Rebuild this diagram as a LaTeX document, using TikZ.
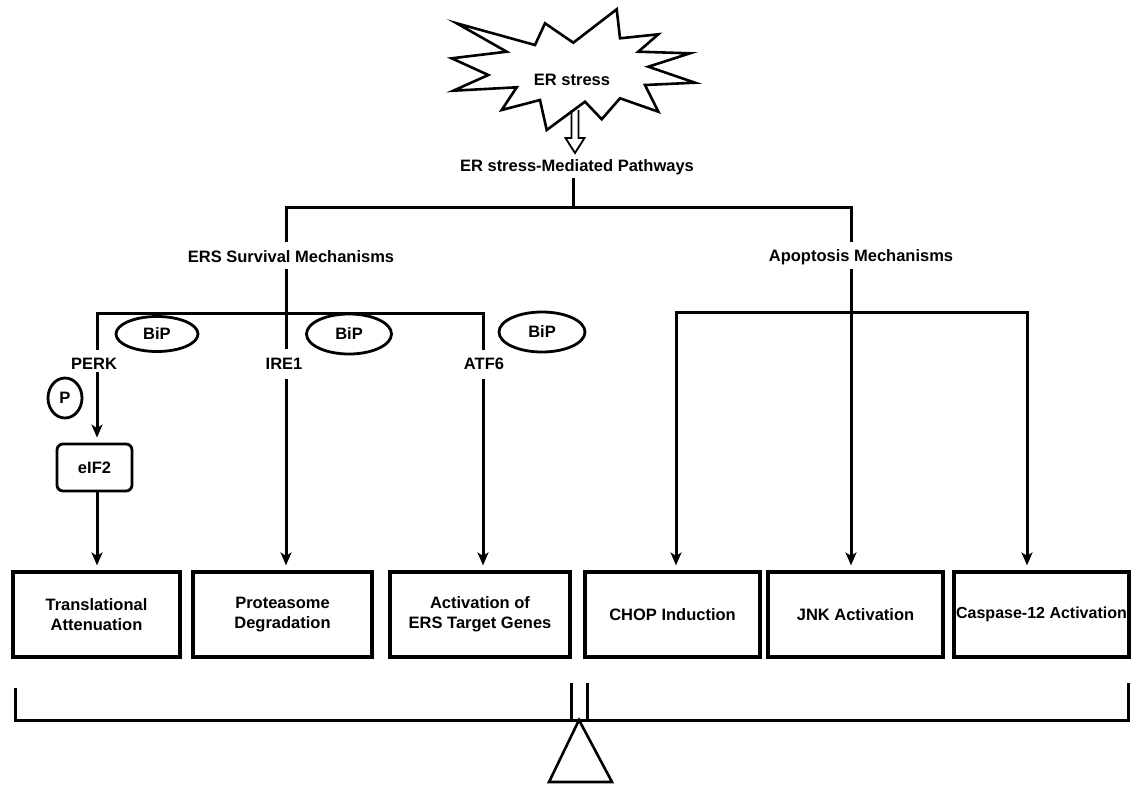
\documentclass[tikz,border=0pt]{standalone}
\usepackage{fontspec}
\setmainfont{Liberation Sans}
\usetikzlibrary{arrows.meta,shapes.geometric}
\newcommand\lblfont{\fontsize{16.5}{20}\selectfont\bfseries}
\tikzset{
  ln/.style={line width=3pt},
  arr/.style={line width=3pt,-{Stealth[length=13pt,width=11pt,inset=3.5pt]}},
  lbl/.style={font=\lblfont,inner sep=0pt},
  resbox/.style={draw,line width=3.2pt,minimum height=85pt,inner sep=0pt,align=center,font=\lblfont},
  bip/.style={draw,ellipse,line width=2.8pt,inner sep=0pt,font=\lblfont},
}
\begin{document}
\begin{tikzpicture}[x=1pt,y=-1pt]
\useasboundingbox (0,0) rectangle (1131,785);
% starburst
\draw[line width=2.6pt,line join=miter,miter limit=20]
 (456.7,23.3) -- (535,45) -- (545,23.3) -- (573.3,42.7) -- (616.7,9.3) -- (620,38.3)
 -- (658.3,34.3) -- (638.3,51.7) -- (690,53.3) -- (648.3,66.7) -- (695,82.7) -- (645,85)
 -- (658.3,111.7) -- (620,98.3) -- (601.7,119.3) -- (585,101.7) -- (546.7,130) -- (540,100)
 -- (501.7,110) -- (516.7,87.3) -- (453.3,90.7) -- (488.3,75) -- (451.7,58.3) -- (506.7,51.7) -- cycle;
\node[lbl] (er) at (572,80) {ER stress};
% hollow arrow
\draw[line width=1.8pt,line join=miter]
 (571.5,110) -- (571.5,138) -- (565.5,138) -- (575,153) -- (584.5,138) -- (578.5,138) -- (578.5,110);
\node[lbl] (med) at (577,167) {ER stress-Mediated Pathways};
% main tree
\coordinate (t0) at (573,178);
\coordinate (tC) at (573,207);
\coordinate (tL) at (286,207);
\coordinate (tR) at (851,207);
\draw[ln] (t0) -- (tC);
\draw[ln,line cap=rect] (tL) -- (tR);
\node[lbl] (ers) at (291,257) {ERS Survival Mechanisms};
\node[lbl] (apo) at (861,257) {Apoptosis Mechanisms};
\coordinate (eL1) at (286,242);
\coordinate (eR1) at (851,242);
\draw[ln] (tL) -- (eL1);
\draw[ln] (tR) -- (eR1);
% survival branch
\coordinate (eL2) at (286,269);
\coordinate (sL) at (97,313);
\coordinate (sR) at (483,313);
\coordinate (ireT) at (286,349);
\draw[ln] (eL2) -- (ireT);
\draw[ln,line join=miter] (97,350) -- (sL) -- (sR) -- (483,350);
\node[bip,minimum width=82pt,minimum height=35pt] (bip1) at (157,334) {BiP};
\node[bip,minimum width=85pt,minimum height=40pt] (bip2) at (349,334) {BiP};
\node[bip,minimum width=86pt,minimum height=40pt] (bip3) at (542,332) {BiP};
\node[lbl] (perk) at (94,364) {PERK};
\node[lbl] (ire) at (284,364) {IRE1};
\node[lbl] (atf) at (484,364) {ATF6};
\node[bip,minimum width=34pt,minimum height=40pt] (p) at (65,398) {P};
\node[draw,line width=2.8pt,rounded corners=6pt,minimum width=75pt,minimum height=47pt,inner sep=0pt,font=\lblfont] (eif) at (94.5,467.5) {eIF2};
% boxes
\node[resbox,minimum width=167pt] (b1) at (96.5,614.5) {Translational\\Attenuation};
\node[resbox,minimum width=179pt] (b2) at (282.5,614.5) {Proteasome\\Degradation};
\node[resbox,minimum width=180pt] (b3) at (480,614.5) {Activation of\\ERS Target Genes};
\node[resbox,minimum width=175pt] (b4) at (672.5,614.5) {CHOP Induction};
\node[resbox,minimum width=175pt] (b5) at (855.5,614.5) {JNK Activation};
\node[resbox,minimum width=175pt,font=\fontsize{16}{20}\selectfont\bfseries] (b6) at (1041.5,614.5) {Caspase-12 Activation};
% arrows survival
\coordinate (perkB) at (97,372);
\coordinate (ireB) at (286,379);
\coordinate (atfB) at (483,379);
\draw[arr,shorten >=5pt] (perkB) -- (perkB |- eif.north);
\draw[arr,shorten >=5pt] (eif.south -| perkB) -- (perkB |- b1.north);
\draw[arr,shorten >=5pt] (ireB) -- (ireB |- b2.north);
\draw[arr,shorten >=5pt] (atfB) -- (atfB |- b3.north);
% apoptosis branch
\coordinate (eR2) at (851,269);
\coordinate (aL) at (676,312);
\coordinate (aR) at (1027,312);
\draw[ln,line cap=rect] (aL) -- (aR);
\draw[arr,shorten >=5pt] (aL) -- (aL |- b4.north);
\draw[arr,shorten >=5pt] (aR) -- (aR |- b6.north);
\draw[arr,shorten >=5pt] (eR2) -- (eR2 |- b5.north);
% balance
\coordinate (bl) at (15,720);
\coordinate (br) at (1128,720);
\coordinate (apex) at (579,720);
\draw[ln,line cap=rect] (bl) -- (br);
\draw[ln] (15,688) -- (bl);
\draw[ln] (1128,683) -- (br);
\draw[ln] (571,683) -- (571,720);
\draw[ln] (587,683) -- (587,720);
\draw[line width=2.6pt,line join=miter] (apex) -- (612,782) -- (549,782) -- cycle;
\end{tikzpicture}
\end{document}
